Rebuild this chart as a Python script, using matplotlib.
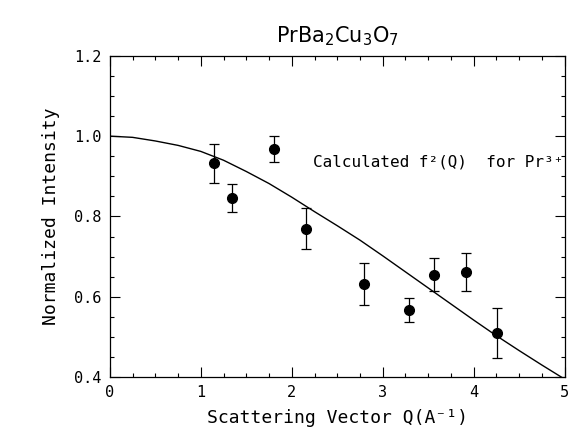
import matplotlib
matplotlib.use('Agg')
import matplotlib.pyplot as plt
from matplotlib.ticker import MultipleLocator

q_data = [1.15, 1.34, 1.81, 2.16, 2.79, 3.29, 3.56, 3.92, 4.26]
i_data = [0.932, 0.845, 0.968, 0.770, 0.631, 0.567, 0.655, 0.661, 0.510]
i_err = [0.048, 0.035, 0.032, 0.050, 0.052, 0.030, 0.041, 0.047, 0.062]

# calculated form factor curve
q_calc = [0.0, 0.25, 0.5, 0.75, 1.0, 1.25, 1.5, 1.75, 2.0, 2.25, 2.5, 2.75,
          3.0, 3.25, 3.5, 3.75, 4.0, 4.25, 4.5, 4.75, 5.0]
f2_calc = [1.0, 0.997, 0.988, 0.977, 0.962, 0.940, 0.912, 0.882, 0.848, 0.812,
           0.777, 0.741, 0.702, 0.662, 0.622, 0.582, 0.542, 0.503, 0.466, 0.430, 0.395]

mono = 'DejaVu Sans Mono'

fig = plt.figure(figsize=(5.78, 4.36), dpi=100)
ax = fig.add_axes([0.190, 0.135, 0.787, 0.737])

ax.plot(q_calc, f2_calc, color='black', lw=1.0)
ax.errorbar(q_data, i_data, yerr=i_err, fmt='o', color='black', ms=7,
            elinewidth=0.9, capsize=3.5, capthick=0.9)

ax.set_xlim(0, 5)
ax.set_ylim(0.4, 1.2)
ax.xaxis.set_major_locator(MultipleLocator(1))
ax.xaxis.set_minor_locator(MultipleLocator(0.25))
ax.yaxis.set_major_locator(MultipleLocator(0.2))
ax.yaxis.set_minor_locator(MultipleLocator(0.05))
ax.set_yticks([0.4, 0.6, 0.8, 1.0, 1.2])
ax.set_yticklabels(['0.4', '0.6', '0.8', '1.0', '1.2'])
ax.tick_params(which='both', direction='in', top=True, right=True, width=0.8)
ax.tick_params(which='major', length=7, labelsize=11, pad=6)
ax.tick_params(which='minor', length=3)
for lab in ax.get_xticklabels() + ax.get_yticklabels():
    lab.set_family(mono)
for s in ax.spines.values():
    s.set_linewidth(0.9)

ax.set_xlabel('Scattering Vector Q(A⁻¹)', family=mono, fontsize=13, labelpad=6)
ax.set_ylabel('Normalized Intensity', family=mono, fontsize=13, labelpad=10)
ax.set_title(r'PrBa$_2$Cu$_3$O$_7$', fontsize=15, pad=10)

ax.text(2.23, 0.935, 'Calculated f²(Q)  for Pr³⁺', family=mono, fontsize=11.5,
        va='center', ha='left')

fig.savefig('out.png', dpi=100)
